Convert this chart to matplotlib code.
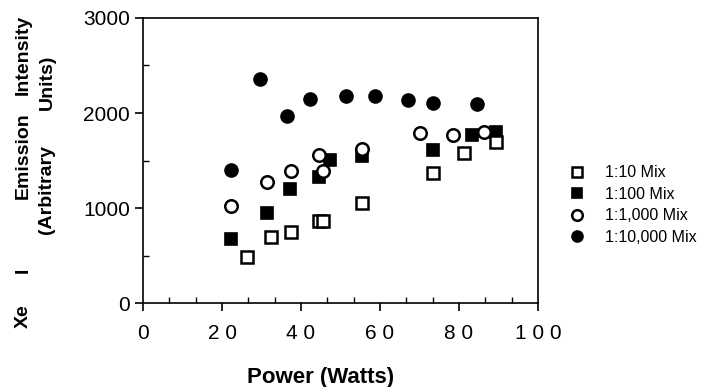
import matplotlib
matplotlib.use('Agg')
import matplotlib.pyplot as plt
from matplotlib.ticker import MultipleLocator

# values
power_1_10 = [26.3, 32.3, 37.4, 44.6, 45.6, 55.4, 73.5, 81.3, 89.4]
inten_1_10 = [481, 691, 751, 866, 866, 1056, 1372, 1576, 1698]
power_1_100 = [22.2, 31.4, 37.3, 44.6, 47.3, 55.4, 73.5, 83.4, 89.4]
inten_1_100 = [677, 947, 1197, 1326, 1505, 1547, 1610, 1768, 1803]
power_1_1000 = [22.3, 31.4, 37.4, 44.6, 45.5, 55.4, 70.1, 78.4, 86.3]
inten_1_1000 = [1024, 1274, 1393, 1561, 1389, 1621, 1786, 1768, 1803]
power_1_10000 = [22.3, 29.6, 36.5, 42.4, 51.4, 58.7, 67.2, 73.4, 84.5]
inten_1_10000 = [1397, 2358, 1968, 2144, 2182, 2182, 2137, 2105, 2095]
labels = ['1:10 Mix', '1:100 Mix', '1:1,000 Mix', '1:10,000 Mix']
x_ticks = [0, 20, 40, 60, 80, 100]
x_tick_labels = ['0', '2 0', '4 0', '6 0', '8 0', '1 0 0']
y_ticks = [0, 1000, 2000, 3000]

plt.rcParams['font.family'] = 'Liberation Sans'

fig = plt.figure(figsize=(7.02, 3.87), dpi=100)
ax = fig.add_axes([0.2037, 0.217, 0.5627, 0.7365])

h100, = ax.plot(power_1_100, inten_1_100, 's', ms=8, mfc='black', mec='black', mew=1.2, ls='none')
h1000, = ax.plot(power_1_1000, inten_1_1000, 'o', ms=9, mfc='white', mec='black', mew=1.8, ls='none')
h10, = ax.plot(power_1_10, inten_1_10, 's', ms=8, mfc='white', mec='black', mew=1.8, ls='none')
h10000, = ax.plot(power_1_10000, inten_1_10000, 'o', ms=9.5, mfc='black', mec='black', ls='none')

ax.set_xlim(0, 100)
ax.set_ylim(0, 3000)
ax.set_xticks(x_ticks, x_tick_labels)
ax.set_yticks(y_ticks, [str(v) for v in y_ticks])
ax.xaxis.set_minor_locator(MultipleLocator(20 / 3))
ax.yaxis.set_minor_locator(MultipleLocator(500))
ax.tick_params(which='major', direction='out', length=6, width=1.2, labelsize=15)
ax.tick_params(which='minor', direction='in', length=4, width=1)
ax.tick_params(axis='x', which='major', pad=9)
for sp in ax.spines.values():
    sp.set_linewidth(1.2)

fig.text(321 / 702, 1 - 377 / 387, 'Power (Watts)', ha='center', va='center',
         fontsize=16, fontweight='bold')

# two-line y label, words spaced out like the original
line1 = [('Intensity', 55), ('Emission', 156), ('I', 270), ('Xe', 316.5)]
line2 = [('Units)', 82.5), ('(Arbitrary', 189.5)]
for word, yc in line1:
    fig.text(23 / 702, 1 - yc / 387, word, rotation=90, ha='center', va='center',
             fontsize=14, fontweight='bold')
for word, yc in line2:
    fig.text(47 / 702, 1 - yc / 387, word, rotation=90, ha='center', va='center',
             fontsize=14, fontweight='bold')

fig.legend([h10, h100, h1000, h10000], labels, loc='center left',
           bbox_to_anchor=(561 / 702, 1 - 205 / 387), frameon=False, fontsize=11.5,
           handlelength=1.0, handletextpad=1.25, labelspacing=0.4, borderpad=0,
           markerscale=0.85)

fig.savefig('out.png', dpi=100)
